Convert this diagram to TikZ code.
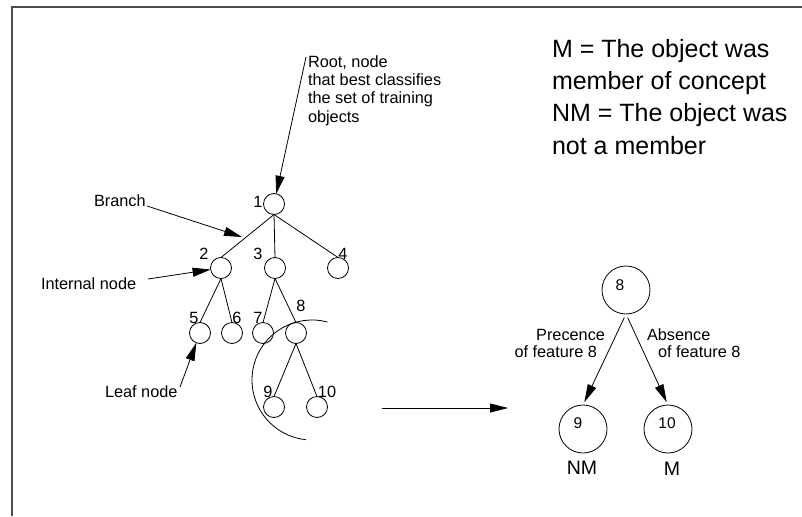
\documentclass[tikz,border=0pt]{standalone}
\usepackage{fontspec}
\setmainfont{Liberation Sans}
\usetikzlibrary{arrows.meta}
\begin{document}
\begin{tikzpicture}[x=1pt,y=-1pt,
  every node/.style={inner sep=0pt, outer sep=0pt},
  small/.style={font=\fontsize{16.3}{18.3}\selectfont},
  legend/.style={font=\fontsize{25}{32.3}\selectfont},
  big/.style={font=\fontsize{19.5}{22}\selectfont},
  inner/.style={font=\fontsize{15.5}{17}\selectfont},
  tnode/.style={circle, draw, line width=0.8pt, minimum size=21pt},
  rnode/.style={circle, draw, line width=0.8pt, minimum size=48pt},
  edge/.style={line width=0.8pt},
  arr/.style={line width=0.8pt, -{Triangle[length=18pt,width=9pt]}},
  frame/.style={line width=1.4pt, black!70}]
\useasboundingbox (0,0) rectangle (802,516);
\draw[frame] (12,516) -- (12,7) -- (802,7);

% left tree
\node[tnode] (n1) at (274,204) {};
\node[tnode] (n2) at (221,268) {};
\node[tnode] (n3) at (275,268) {};
\node[tnode] (n4) at (338,268) {};
\node[tnode] (n5) at (200,333) {};
\node[tnode] (n6) at (232,333) {};
\node[tnode] (n7) at (263,333) {};
\node[tnode] (n8) at (296,333) {};
\node[tnode] (n9) at (274,407) {};
\node[tnode] (n10) at (317,407) {};

\node[small] (l1) at (258,202) {1};
\node[small] (l2) at (204,254) {2};
\node[small] (l3) at (258,254) {3};
\node[small] (l4) at (343,254) {4};
\node[small] (l5) at (194,318) {5};
\node[small] (l6) at (237,318) {6};
\node[small] (l7) at (258,318) {7};
\node[small] (l8) at (301,306) {8};
\node[small] (l9) at (268,392) {9};
\node[small] (l10) at (327,392) {10};

\draw[edge] (n1.south) -- (n2.north);
\draw[edge] (n1.south) -- (n3.north);
\draw[edge] (n1.south) -- (n4.north);
\draw[edge] (n2.south) -- (n5.north);
\draw[edge] (n2.south) -- (n6.north);
\draw[edge] (n3.south) -- (n7.north);
\draw[edge] (n3.south) -- (n8.north);
\draw[edge] (n8.south) -- (n9.north);
\draw[edge] (n8.south) -- (n10.north);

\coordinate (arcc) at (312,380);
\draw[edge] ([shift={(-75:60)}]arcc) arc[start angle=-75, end angle=-264, radius=60];

% annotations
\node[small, anchor=north west, align=left] (root) at (308,55.3)
  {Root, node\\that best classifies\\the set of training\\objects};
\coordinate (rootstart) at (306,57);
\draw[arr] (rootstart) -- (n1);

\node[small, anchor=base west] (branch) at (94,206) {Branch};
\coordinate (bstart) at (147,206);
\coordinate (bend) at (242,237);
\draw[arr] (bstart) -- (bend);

\node[small, anchor=base west] (internal) at (41,289) {Internal node};
\coordinate (istart) at (148,279);
\draw[arr] (istart) -- (n2);

\node[small, anchor=base west] (leaf) at (105,397) {Leaf node};
\coordinate (lstart) at (180,387);
\draw[arr] (lstart) -- (n5);

% legend
\node[legend, anchor=north west, align=left] (legendtext) at (552,39)
  {M = The object was\\member of concept\\NM = The object was\\not a member};

% transform arrow
\coordinate (ha) at (382,408);
\coordinate (hb) at (508,408);
\draw[arr] (ha) -- (hb);

% right tree
\node[rnode] (r8) at (626,290) {};
\node[rnode] (r9) at (583,429) {};
\node[rnode] (r10) at (668,429) {};
\node[inner] (t8) at (620,285) {8};
\node[inner] (t9) at (578,423) {9};
\node[inner] (t10) at (667,423) {10};

\draw[arr, shorten <=4pt, shorten >=3pt] (r8.south) -- (r9.north);
\draw[arr, shorten <=4pt, shorten >=3pt] (r8.south) -- (r10.north);

\node[small, anchor=base east] (pre1) at (605,340.7) {Precence};
\node[small, anchor=base east] (pre2) at (597,357.3) {of feature 8};
\node[small, anchor=base west] (abs1) at (647,340.7) {Absence};
\node[small, anchor=base west] (abs2) at (658,357.3) {of feature 8};

\node[big] (nm) at (582,468) {NM};
\node[big] (m) at (672,469) {M};
\end{tikzpicture}
\end{document}
